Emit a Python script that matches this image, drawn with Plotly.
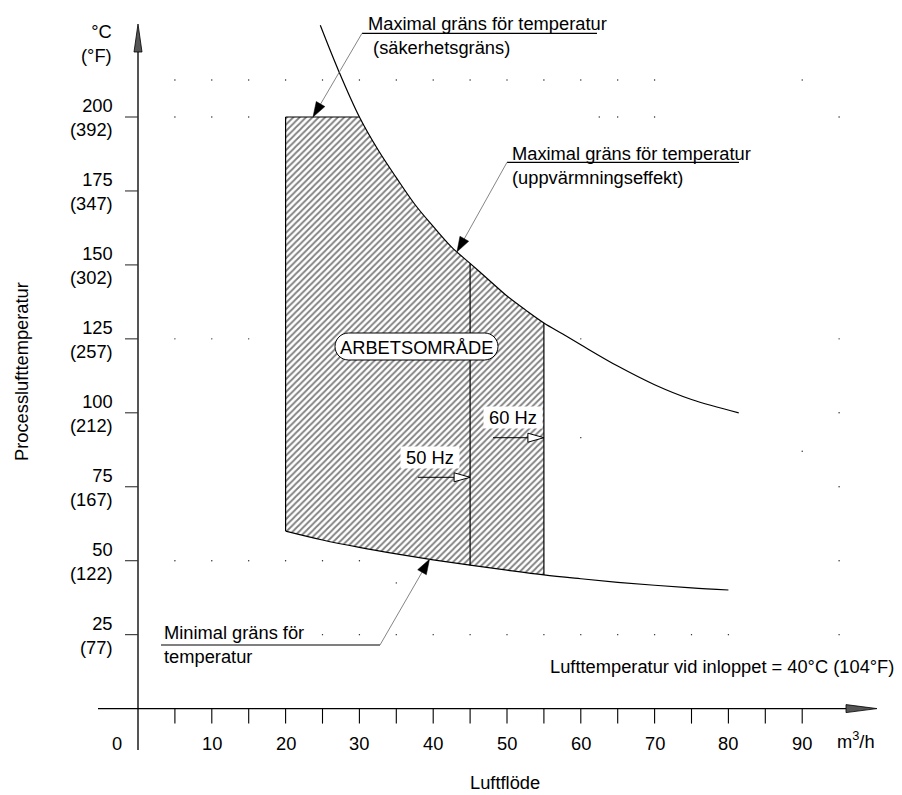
import numpy as np
import plotly.graph_objects as go

# ---------------- data ----------------
flow_ticks = [5, 10, 15, 20, 25, 30, 35, 40, 45, 50, 55, 60, 65, 70, 75, 80, 85, 90]
flow_tick_labels = [10, 20, 30, 40, 50, 60, 70, 80, 90]
temp_ticks_c = [25, 50, 75, 100, 125, 150, 175, 200]
temp_ticks_f = [77, 122, 167, 212, 257, 302, 347, 392]

# maximal temperature limit (heating power), m3/h -> degC
upper_x = [24.7, 27.2, 30, 32.5, 35, 37.5, 40, 42.5, 45, 47.5, 50, 52.5, 55,
           57.5, 60, 65, 70, 75, 81.4]
upper_y = [231, 215.5, 200, 189, 179.5, 170.5, 163, 156, 150.5, 145, 139.5, 134.8,
           130.4, 126.7, 123, 115.8, 109.5, 104.5, 100]
# minimal temperature limit
lower_x = [20, 25, 30, 35, 40, 45, 50, 55, 60, 65, 70, 75, 80]
lower_y = [60, 57, 54.5, 52.3, 50.3, 48.5, 46.8, 45.2, 43.9, 42.7, 41.7, 40.8, 40.1]

safety_temp = 200      # safety limit (top of working area)
flow_min = 20          # minimal air flow
flow_50hz = 45         # max flow at 50 Hz
flow_60hz = 55         # max flow at 60 Hz

# faint grid dots visible in the drawing
grid_dot_x = ([5, 10, 15, 20, 25, 30, 35, 40, 45, 50, 55, 60, 65, 70, 90] +
              [5, 10, 15, 62.5, 65, 70, 95] +
              [5, 10, 15, 60, 95] + [95, 60, 90, 95] +
              [5, 10, 15, 20, 25, 30, 95] + [35] +
              [25, 30, 35, 40, 45, 50, 55, 60, 65, 70, 75, 80, 95])
grid_dot_y = ([212.5] * 15 + [200] * 7 + [125] * 5 + [100, 91.6, 87, 75] +
              [50] * 7 + [42.5] + [25] * 13)

# ---------------- geometry (pixel frame of the drawing) ----------------
W, H = 902, 795
OFF = 8                    # page body margin
X0, Y0 = 138.0, 708.6      # pixel position of origin in the reference
PX, PY = 7.38, 2.958       # pixels per unit

def D(px, py):
    return ((px - X0) / PX, (Y0 - py) / PY)

def P(x, y):
    return (X0 + x * PX, Y0 - y * PY)

FONT = "Liberation Sans, Arial, sans-serif"
FS = 18.3

fig = go.Figure()

def seg_trace(segs, color="black", width=1.0):
    xs, ys = [], []
    for (x1, y1), (x2, y2) in segs:
        xs += [x1, x2, None]
        ys += [y1, y2, None]
    return go.Scatter(x=xs, y=ys, mode="lines", line=dict(color=color, width=width),
                      hoverinfo="skip", showlegend=False)

def poly_trace(pts, fill, line_color="black", lw=1.0):
    xs = [p[0] for p in pts] + [pts[0][0]]
    ys = [p[1] for p in pts] + [pts[0][1]]
    return go.Scatter(x=xs, y=ys, mode="lines", fill="toself", fillcolor=fill,
                      line=dict(color=line_color, width=lw), hoverinfo="skip",
                      showlegend=False)

def arrow_head(tip, tail, length, half):
    tx, ty = P(*tip)
    sx, sy = P(*tail)
    v = np.array([tx - sx, ty - sy])
    u = v / np.linalg.norm(v)
    n = np.array([-u[1], u[0]])
    b = np.array([tx, ty]) - u * length
    c1 = b + n * half
    c2 = b - n * half
    return [D(tx, ty), D(*c1), D(*c2)]

# grid dots
fig.add_trace(go.Scatter(x=grid_dot_x, y=grid_dot_y, mode="markers",
                         marker=dict(size=1.4, color="#222222"), hoverinfo="skip",
                         showlegend=False))

# hatched working area
i30 = upper_x.index(30)
i55 = upper_x.index(flow_60hz)
i45 = upper_x.index(flow_50hz)
j20 = lower_x.index(flow_min)
j45 = lower_x.index(flow_50hz)
j55 = lower_x.index(flow_60hz)
poly_x = [flow_min, flow_min] + upper_x[i30:i55 + 1] + lower_x[j20:j55 + 1][::-1]
poly_y = [lower_y[j20], safety_temp] + upper_y[i30:i55 + 1] + lower_y[j20:j55 + 1][::-1]
fig.add_trace(go.Scatter(x=poly_x, y=poly_y, mode="lines", fill="toself",
                         fillpattern=dict(shape="/", size=4.5, solidity=0.4,
                                          fgcolor="black", bgcolor="white"),
                         line=dict(width=0), hoverinfo="skip", showlegend=False))

# curves
fig.add_trace(go.Scatter(x=upper_x, y=upper_y, mode="lines",
                         line=dict(color="black", width=1.2, shape="spline"),
                         hoverinfo="skip", showlegend=False))
fig.add_trace(go.Scatter(x=lower_x, y=lower_y, mode="lines",
                         line=dict(color="black", width=1.2, shape="spline"),
                         hoverinfo="skip", showlegend=False))

# edges of the working area
fig.add_trace(seg_trace([
    ((flow_min, lower_y[j20]), (flow_min, safety_temp)),
    ((flow_min, safety_temp), (30, safety_temp)),
    ((flow_60hz, lower_y[j55]), (flow_60hz, upper_y[i55])),
    ((flow_50hz, lower_y[j45]), (flow_50hz, upper_y[i45])),
], width=1.2))

# axes
xa_left, _ = D(98, 0)
_, ya_bot = D(0, 750)
xa_arrow_base, _ = D(846, 0)
xa_tip, _ = D(877, 0)
_, ya_arrow_base = D(0, 52)
_, ya_tip = D(0, 24)
fig.add_trace(seg_trace([((0, ya_bot), (0, ya_arrow_base))], color="#555555", width=2))
fig.add_trace(seg_trace([((xa_left, 0), (xa_arrow_base, 0))], color="black", width=1.3))
tick_len_y = 15 / PY
tick_len_x = 13 / PX
fig.add_trace(seg_trace([((t, 0), (t, -tick_len_y)) for t in flow_ticks], width=1.1))
fig.add_trace(seg_trace([((-tick_len_x, t), (0, t)) for t in temp_ticks_c],
                        color="#333333", width=1.1))
# axis arrow heads
hy = 4 / PX
fig.add_trace(poly_trace([(0, ya_tip), (-hy, ya_arrow_base), (hy, ya_arrow_base)], "#555555",
                         lw=0.8))
hx = 4 / PY
fig.add_trace(poly_trace([(xa_tip, 0), (xa_arrow_base, hx), (xa_arrow_base, -hx)], "#555555",
                         lw=0.8))

shapes = []
annotations = []

def text(x, y, s, xanchor="center", yanchor="middle", size=FS, **kw):
    annotations.append(dict(x=x, y=y, xref="x", yref="y", text=s, showarrow=False,
                            xanchor=xanchor, yanchor=yanchor,
                            font=dict(family=FONT, size=size, color="black"), **kw))

# ---------------- leaders ----------------
u1a = D(362, 33.3); u1b = D(597, 33.3)
tip1 = (D(313, 0)[0], safety_temp)
u2a = D(507, 162.3); u2b = D(739, 162.3)
tip2x = D(457, 0)[0]
tip2 = (tip2x, float(np.interp(tip2x, upper_x, upper_y)))
u3a = D(161, 645); u3b = D(380, 645)
tip3x = 39.5
tip3 = (tip3x, float(np.interp(tip3x, lower_x, lower_y)))

fig.add_trace(seg_trace([(u1a, u1b), (u2a, u2b), (u3a, u3b)], width=1.2))
fig.add_trace(seg_trace([(u1a, tip1), (u2a, tip2), (u3b, tip3)], color="#777777", width=0.9))
for tail, tip in [(u1a, tip1), (u2a, tip2), (u3b, tip3)]:
    fig.add_trace(poly_trace(arrow_head(tip, tail, 15, 5), "black", lw=0.5))

# 50 / 60 Hz arrows (open heads)
a50y = D(0, 477.3)[1]
a60y = D(0, 437.7)[1]
a50s = D(418, 0)[0]
a60s = D(493, 0)[0]
fig.add_trace(seg_trace([((a50s, a50y), (flow_50hz, a50y)), ((a60s, a60y), (flow_60hz, a60y))],
                        width=1.0))
for sx, ex, yy in [(a50s, flow_50hz, a50y), (a60s, flow_60hz, a60y)]:
    fig.add_trace(poly_trace(arrow_head((ex, yy), (sx, yy), 16, 4.5), "white", lw=1.0))

# ARBETSOMRÅDE pill
cx, cy, hw, r = 416.5, 346.5, 81.5, 13.5
k = 0.5523
s = hw - r
def pp(px, py):
    x, y = D(px, py)
    return f"{x:.4f},{y:.4f}"
path = (f"M{pp(cx - s, cy - r)} L{pp(cx + s, cy - r)} "
        f"C{pp(cx + s + k * r, cy - r)} {pp(cx + hw, cy - k * r)} {pp(cx + hw, cy)} "
        f"C{pp(cx + hw, cy + k * r)} {pp(cx + s + k * r, cy + r)} {pp(cx + s, cy + r)} "
        f"L{pp(cx - s, cy + r)} "
        f"C{pp(cx - s - k * r, cy + r)} {pp(cx - hw, cy + k * r)} {pp(cx - hw, cy)} "
        f"C{pp(cx - hw, cy - k * r)} {pp(cx - s - k * r, cy - r)} {pp(cx - s, cy - r)} Z")
shapes.append(dict(type="path", path=path, xref="x", yref="y", fillcolor="white",
                   line=dict(color="black", width=1), layer="above"))
text(*D(cx, cy + 0.5), "ARBETSOMRÅDE", size=18.3)

# texts
text(*D(366, 35), "Maximal gräns för temperatur<br> (säkerhetsgräns)", xanchor="left", align="left")
text(*D(510, 165), "Maximal gräns för temperatur<br>(uppvärmningseffekt)", xanchor="left", align="left")
text(*D(162, 644.5), "Minimal gräns för<br>temperatur", xanchor="left", align="left")
text(*D(430.3, 457), "&nbsp;50 Hz&nbsp;", bgcolor="white", borderpad=0)
text(*D(513, 417.7), "&nbsp;60 Hz&nbsp;", bgcolor="white", borderpad=0)
text(*D(548, 666.7), "Lufttemperatur vid inloppet = 40°C (104°F)", xanchor="left")
text(*D(835, 740), "m<sup>3</sup>/h", xanchor="left")
text(*D(505, 782), "Luftflöde")
text(*D(21, 372), "Processlufttemperatur", textangle=-90)
text(*D(114, 43.5), "°C<br>(°F)", xanchor="right", align="right")

# tick labels
for t in flow_tick_labels:
    text(t, D(0, 743)[1], str(t))
text(D(116.7, 0)[0], D(0, 743)[1], "0")
lab_x = D(114.5, 0)[0]
for c, f in zip(temp_ticks_c, temp_ticks_f):
    _, ty = P(0, c)
    text(lab_x, D(0, ty + 0.5)[1], f"{c}<br>({f})", xanchor="right", align="right")

# figure is offset by the page margin, so the plotted frame covers [OFF, W] x [OFF, H]
xr = [D(OFF, 0)[0], D(W, 0)[0]]
yr = [D(0, H)[1], D(0, OFF)[1]]
fig.update_layout(
    width=W - OFF, height=H - OFF, margin=dict(l=0, r=0, t=0, b=0),
    paper_bgcolor="white", plot_bgcolor="white",
    xaxis=dict(range=xr, visible=False, fixedrange=True),
    yaxis=dict(range=yr, visible=False, fixedrange=True),
    shapes=shapes, annotations=annotations, showlegend=False,
    font=dict(family=FONT, size=FS, color="black"),
)
fig.write_html("out.html")
